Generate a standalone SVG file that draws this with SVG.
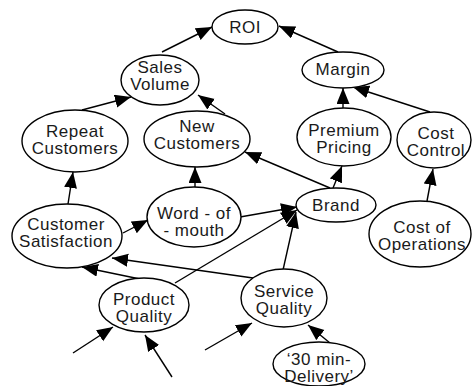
<svg xmlns="http://www.w3.org/2000/svg" width="472" height="386" viewBox="0 0 472 386">
<style>
.n ellipse{fill:#fff;stroke:#000;stroke-width:1.4}
.n text{font-family:"Liberation Sans",Arial,sans-serif;font-size:17px;letter-spacing:0.5px;fill:#1a1a1a;text-anchor:middle}
.c line{stroke:#000;stroke-width:1.4;marker-end:url(#ah)}
</style>
<defs>
<marker id="ah" markerUnits="userSpaceOnUse" markerWidth="17" markerHeight="14" refX="16" refY="6.5" orient="auto">
<path d="M0,0 L16,6.5 L0,13 z" fill="#000"/>
</marker>
</defs>
<rect width="472" height="386" fill="#fff"/>
<g class="c">
<line x1="162" y1="52" x2="212" y2="27"/>
<line x1="338" y1="52" x2="279" y2="26"/>
<line x1="82" y1="110" x2="131" y2="97"/>
<line x1="225" y1="114" x2="198" y2="95"/>
<line x1="343" y1="108" x2="343" y2="88"/>
<line x1="430" y1="112" x2="353" y2="87"/>
<line x1="330" y1="188" x2="245" y2="152"/>
<line x1="333" y1="188" x2="342" y2="166"/>
<line x1="427" y1="201" x2="433" y2="169"/>
<line x1="68" y1="204" x2="73" y2="172"/>
<line x1="195" y1="187" x2="195" y2="167"/>
<line x1="123" y1="233" x2="148" y2="220"/>
<line x1="240" y1="217" x2="297" y2="207"/>
<line x1="175" y1="283" x2="297" y2="210"/>
<line x1="283" y1="270" x2="296" y2="212"/>
<line x1="253" y1="278" x2="112" y2="258"/>
<line x1="140" y1="279" x2="82" y2="267"/>
<line x1="73" y1="353" x2="113" y2="327"/>
<line x1="172" y1="377" x2="145" y2="335"/>
<line x1="205" y1="350" x2="252" y2="323"/>
<line x1="330" y1="343" x2="308" y2="325"/>
</g>
<g id="roi" class="n"><ellipse cx="245" cy="27" rx="33" ry="17"/><text x="245" y="33">ROI</text></g>
<g id="sales-volume" class="n"><ellipse cx="160" cy="80" rx="39" ry="25"/><text x="160" y="73">Sales<tspan x="160" dy="17">Volume</tspan></text></g>
<g id="margin" class="n"><ellipse cx="343" cy="70" rx="41" ry="18"/><text x="343" y="75">Margin</text></g>
<g id="repeat-customers" class="n"><ellipse cx="75" cy="141" rx="53" ry="31"/><text x="75" y="137">Repeat<tspan x="75" dy="17">Customers</tspan></text></g>
<g id="new-customers" class="n"><ellipse cx="197" cy="139" rx="53" ry="28"/><text x="197" y="132">New<tspan x="197" dy="17">Customers</tspan></text></g>
<g id="premium-pricing" class="n"><ellipse cx="344" cy="137" rx="47" ry="29"/><text x="344" y="136">Premium<tspan x="344" dy="17">Pricing</tspan></text></g>
<g id="cost-control" class="n"><ellipse cx="434" cy="140" rx="37" ry="28"/><text x="436" y="139">Cost<tspan x="436" dy="17">Control</tspan></text></g>
<g id="customer-satisfaction" class="n"><ellipse cx="67" cy="236" rx="55" ry="32"/><text x="66" y="230">Customer<tspan x="66" dy="17">Satisfaction</tspan></text></g>
<g id="word-of-mouth" class="n"><ellipse cx="194" cy="217" rx="47" ry="30"/><text x="194" y="219">Word - of<tspan x="194" dy="17">- mouth</tspan></text></g>
<g id="brand" class="n"><ellipse cx="336" cy="205" rx="40" ry="17"/><text x="336" y="211">Brand</text></g>
<g id="cost-of-operations" class="n"><ellipse cx="420" cy="234" rx="51" ry="33"/><text x="422" y="233">Cost of<tspan x="422" dy="17">Operations</tspan></text></g>
<g id="product-quality" class="n"><ellipse cx="144" cy="305" rx="45" ry="27"/><text x="144" y="305">Product<tspan x="144" dy="17">Quality</tspan></text></g>
<g id="service-quality" class="n"><ellipse cx="284" cy="298" rx="43" ry="29"/><text x="284" y="297">Service<tspan x="284" dy="17">Quality</tspan></text></g>
<g id="delivery" class="n"><ellipse cx="319" cy="364" rx="46" ry="22"/><text x="319" y="365">‘30 min-<tspan x="319" dy="17">Delivery’</tspan></text></g>
</svg>
